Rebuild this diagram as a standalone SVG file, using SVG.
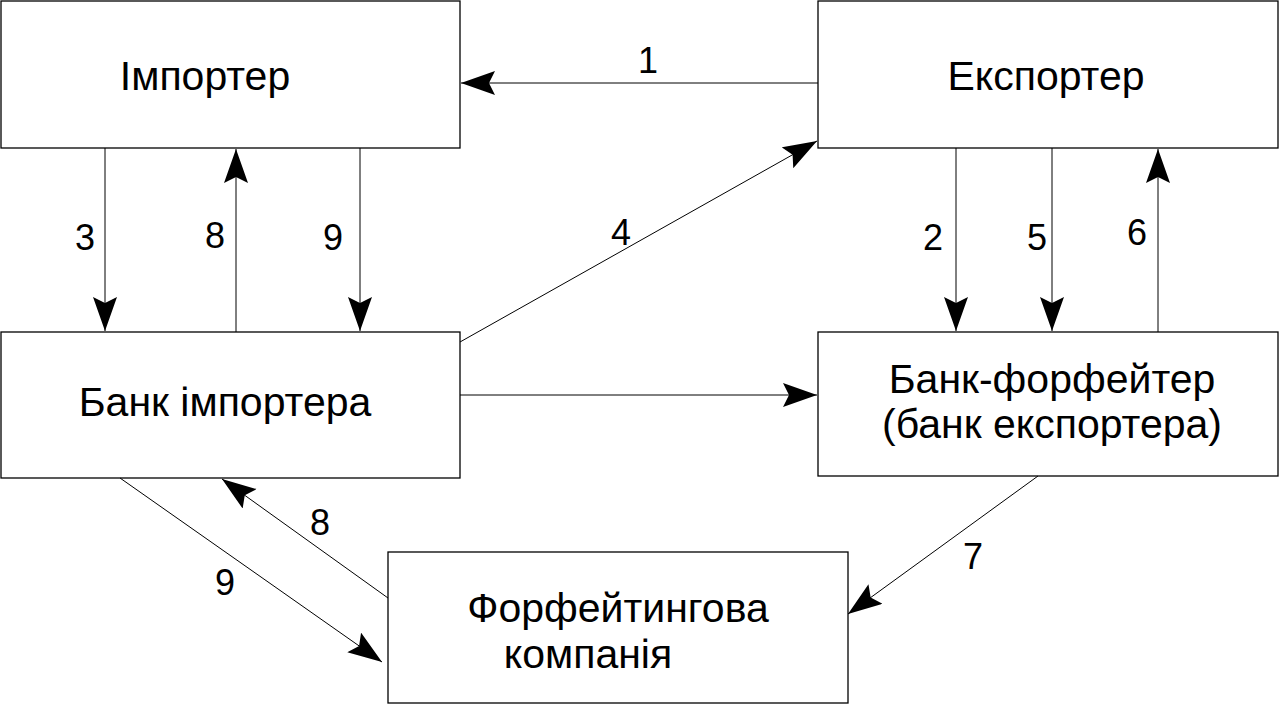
<svg xmlns="http://www.w3.org/2000/svg" width="1280" height="705" viewBox="0 0 1280 705">
<style>
.box{fill:#fff;stroke:#000;stroke-width:1.3}
.t{font-family:"Liberation Sans",Arial,sans-serif;font-size:36px;fill:#000;text-anchor:middle}
.n{font-size:41px}
.c{stroke:#000;stroke-width:1;fill:none;marker-end:url(#a)}
</style>
<defs>
<marker id="a" markerUnits="userSpaceOnUse" markerWidth="40" markerHeight="30" refX="34" refY="12" orient="auto">
<path d="M0,0 L34,12 L0,24 L6,12 Z" fill="#000"/>
</marker>
</defs>
<rect width="1280" height="705" fill="#fff"/>
<g id="importer"><rect class="box" x="1" y="1" width="459" height="147"/><text class="t n" x="205" y="90">Імпортер</text></g>
<g id="exporter"><rect class="box" x="818" y="1" width="460" height="147"/><text class="t n" x="1046" y="90">Експортер</text></g>
<g id="bank-importer"><rect class="box" x="1" y="332" width="459" height="146"/><text class="t n" x="225" y="416">Банк імпортера</text></g>
<g id="bank-forfaiter"><rect class="box" x="818" y="332" width="460" height="144"/><text class="t n" x="1052" y="393">Банк-форфейтер</text><text class="t n" x="1052" y="438">(банк експортера)</text></g>
<g id="forfaiting-company"><rect class="box" x="388" y="552" width="460" height="151"/><text class="t n" x="618" y="622">Форфейтингова</text><text class="t n" x="588" y="668">компанія</text></g>
<g id="connectors">
<line class="c" x1="818" y1="83" x2="461" y2="83"/>
<line class="c" x1="105" y1="148" x2="105" y2="331"/>
<line class="c" x1="236" y1="332" x2="236" y2="149"/>
<line class="c" x1="360" y1="148" x2="360" y2="331"/>
<line class="c" x1="460" y1="342" x2="817" y2="141"/>
<line class="c" x1="460" y1="395" x2="817" y2="395"/>
<line class="c" x1="956" y1="148" x2="956" y2="331"/>
<line class="c" x1="1052" y1="148" x2="1052" y2="331"/>
<line class="c" x1="1158" y1="332" x2="1158" y2="149"/>
<line class="c" x1="1038" y1="476" x2="848" y2="614"/>
<line class="c" x1="388" y1="598" x2="222" y2="479"/>
<line class="c" x1="120" y1="478" x2="382" y2="662"/>
<text class="t" x="648" y="73">1</text>
<text class="t" x="85" y="250">3</text>
<text class="t" x="215" y="248">8</text>
<text class="t" x="333" y="250">9</text>
<text class="t" x="621" y="245">4</text>
<text class="t" x="933" y="250">2</text>
<text class="t" x="1037" y="250">5</text>
<text class="t" x="1137" y="245">6</text>
<text class="t" x="973" y="569">7</text>
<text class="t" x="320" y="535">8</text>
<text class="t" x="225" y="595">9</text>
</g>
</svg>
